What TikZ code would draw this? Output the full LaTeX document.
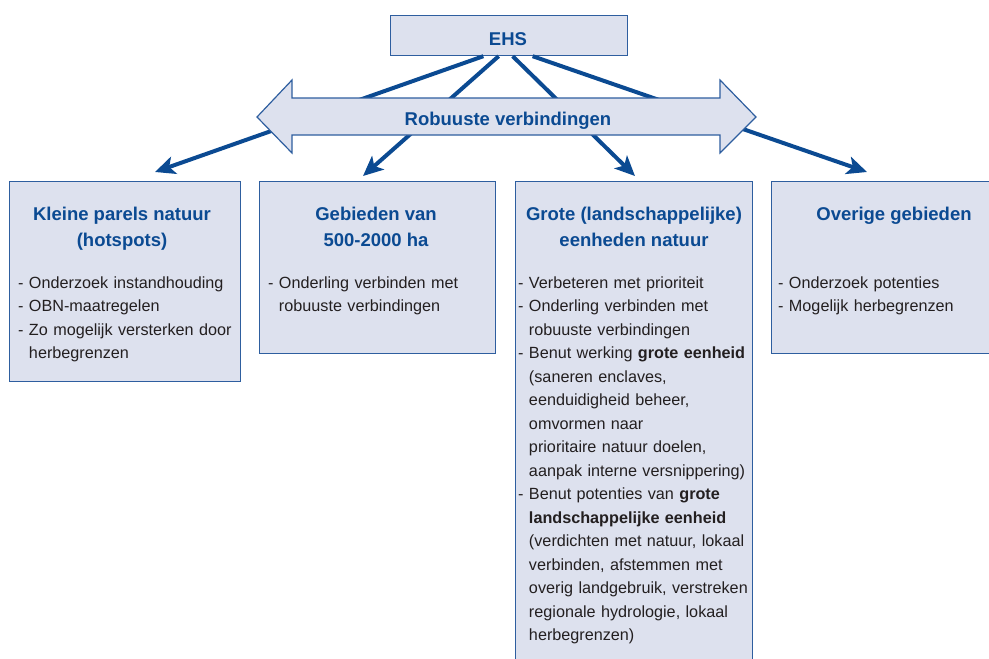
\documentclass[tikz,border=0pt]{standalone}
\usepackage{fontspec}
\setmainfont{Liberation Sans}
\usetikzlibrary{arrows.meta,calc}
\definecolor{ehsblue}{HTML}{0B4A92}
\definecolor{boxfill}{HTML}{DDE1EE}
\definecolor{boxline}{HTML}{2E5E9F}
\definecolor{bodytext}{HTML}{231F20}
\begin{document}
\begin{tikzpicture}[x=1pt,y=-1pt,
  panel/.style={draw=boxline, fill=boxfill, line width=1.2pt, rectangle, inner sep=0pt, anchor=north west},
  title/.style={text=ehsblue, font=\fontsize{18.5}{26}\selectfont\bfseries, align=center, anchor=base, inner sep=0pt},
  body/.style={text=bodytext, font=\fontsize{16.2}{23.5}\selectfont, align=left, text width=250pt, anchor=base west, inner sep=0pt},
  link/.style={draw=ehsblue, line width=4pt, -{Stealth[length=20pt,width=18pt,inset=5pt]}},
  dblarrow/.style={draw=boxline, fill=boxfill, line width=1.2pt, line join=miter},
]
\useasboundingbox (0,0) rectangle (989,659);
\clip (0,0) rectangle (989,659);

% EHS box
\node[panel, minimum width=237pt, minimum height=40pt] (ehs) at (390,15) {};

% named tips
\coordinate (tip1) at (155,172);
\coordinate (tip2) at (363,176);
\coordinate (tip3) at (635,176);
\coordinate (tip4) at (867,172);

% connectors (behind the double arrow)
\draw[link] ($(ehs.south west)!0.392!(ehs.south east)$) -- (tip1);
\draw[link] ($(ehs.south west)!0.456!(ehs.south east)$) -- (tip2);
\draw[link] ($(ehs.south west)!0.515!(ehs.south east)$) -- (tip3);
\draw[link] ($(ehs.south west)!0.599!(ehs.south east)$) -- (tip4);

% double arrow
\draw[dblarrow] (257,117) -- (292,80) -- (292,98) -- (720,98) -- (720,80) -- (756,117)
  -- (720,153) -- (720,135) -- (292,135) -- (292,153) -- cycle;
\node[title] (rv) at (508,125) {Robuuste verbindingen};
\node[title] (ehslabel) at (508,45) {EHS};

% panels
\node[panel, minimum width=231pt, minimum height=200pt] (p1) at (9,181) {};
\node[panel, minimum width=236pt, minimum height=172pt] (p2) at (259,181) {};
\node[panel, minimum width=237pt, minimum height=500pt] (p3) at (515,181) {};
\node[panel, minimum width=240pt, minimum height=172pt] (p4) at (771,181) {};

% titles (base anchor = last line baseline)
\node[title] (t1) at (122,246) {Kleine parels natuur\\(hotspots)};
\node[title] (t2) at (376,246) {Gebieden van\\500-2000 ha};
\node[title] (t3) at (634,246) {Grote (landschappelijke)\\eenheden natuur};
\node[title] (t4) at (894,220) {Overige gebieden};

% bodies
\node[body] (b1) at (18,288) {- Onderzoek instandhouding\\- OBN-maatregelen\\- Zo mogelijk versterken door\\\phantom{- }herbegrenzen};
\node[body] (b2) at (268,288) {- Onderling verbinden met\\\phantom{- }robuuste verbindingen};
\node[body] (b3) at (518,288) {- Verbeteren met prioriteit\\
- Onderling verbinden met\\
\phantom{- }robuuste verbindingen\\
- Benut werking \textbf{grote eenheid}\\
\phantom{- }(saneren enclaves,\\
\phantom{- }eenduidigheid beheer,\\
\phantom{- }omvormen naar\\
\phantom{- }prioritaire natuur doelen,\\
\phantom{- }aanpak interne versnippering)\\
- Benut potenties van \textbf{grote}\\
\phantom{- }\textbf{landschappelijke eenheid}\\
\phantom{- }(verdichten met natuur, lokaal\\
\phantom{- }verbinden, afstemmen met\\
\phantom{- }overig landgebruik, verstreken\\
\phantom{- }regionale hydrologie, lokaal\\
\phantom{- }herbegrenzen)};
\node[body] (b4) at (778,288) {- Onderzoek potenties\\- Mogelijk herbegrenzen};
\end{tikzpicture}
\end{document}
